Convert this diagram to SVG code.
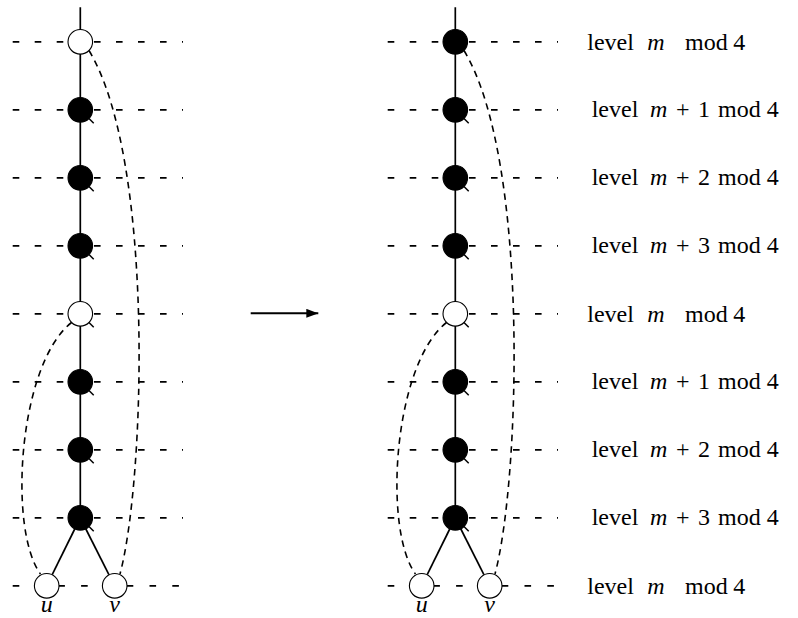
<svg xmlns="http://www.w3.org/2000/svg" width="798" height="618" viewBox="0 0 798 618">
<style>
.lv{fill:none;stroke:#000;stroke-width:1.8;stroke-dasharray:6.6 15.4}
.lvb{fill:none;stroke:#000;stroke-width:1.8;stroke-dasharray:6.6 16.2}
.sol{fill:none;stroke:#000;stroke-width:1.7}
.crv{fill:none;stroke:#000;stroke-width:1.6;stroke-dasharray:6.5 5}
.w{fill:#fff;stroke:#000;stroke-width:1.1}
.b{fill:#000;stroke:#000;stroke-width:1.1}
.tk{stroke:#000;stroke-width:1.5}
.it{font-style:italic}
</style>
<defs>
<marker id="ah" viewBox="0 0 12 9" refX="12" refY="4.5" markerWidth="12" markerHeight="9" markerUnits="userSpaceOnUse" orient="auto">
<path d="M0 0 L12 4.5 L0 9 Z" fill="#000"/>
</marker>
<g id="lvl">
<line class="lv" x1="12.7" y1="0" x2="68" y2="0"/>
<line class="lv" x1="94" y1="0" x2="183" y2="0"/>
</g>
</defs>

<g id="levels">
<g id="levels-left">
<use href="#lvl" y="41.8"/><use href="#lvl" y="109.8"/><use href="#lvl" y="177.8"/><use href="#lvl" y="245.8"/>
<use href="#lvl" y="313.8"/><use href="#lvl" y="381.8"/><use href="#lvl" y="449.8"/><use href="#lvl" y="517.8"/>
<line class="lvb" x1="12.7" y1="585.8" x2="183" y2="585.8"/>
</g>
<g id="levels-right" transform="translate(375,0)">
<use href="#lvl" y="41.8"/><use href="#lvl" y="109.8"/><use href="#lvl" y="177.8"/><use href="#lvl" y="245.8"/>
<use href="#lvl" y="313.8"/><use href="#lvl" y="381.8"/><use href="#lvl" y="449.8"/><use href="#lvl" y="517.8"/>
<line class="lvb" x1="12.7" y1="585.8" x2="183" y2="585.8"/>
</g>
</g>

<g id="connectors">
<g id="conn-left">
<line class="sol" x1="80.3" y1="7.3" x2="80.3" y2="517.8"/>
<line class="sol" x1="75" y1="528.5" x2="52.2" y2="574.6"/>
<line class="sol" x1="85.6" y1="528.5" x2="108.9" y2="574.6"/>
<path class="crv" d="M 89 50.5 C 155 160, 145 480, 120 574"/>
<path class="crv" d="M 71.5 322.5 C 18 365, 8 530, 40.5 574"/>
</g>
<g id="conn-right">
<line class="sol" x1="455.3" y1="7.3" x2="455.3" y2="517.8"/>
<line class="sol" x1="450" y1="528.5" x2="427.2" y2="574.6"/>
<line class="sol" x1="460.6" y1="528.5" x2="483.9" y2="574.6"/>
<path class="crv" d="M 464 50.5 C 530 160, 520 480, 495 574"/>
<path class="crv" d="M 446.5 322.5 C 393 365, 383 530, 415.5 574"/>
</g>
<line id="arrow" x1="250.7" y1="313.3" x2="318.3" y2="313.3" stroke="#000" stroke-width="2" marker-end="url(#ah)"/>
</g>

<g id="nodes-left" font-family="'Liberation Serif', 'DejaVu Serif', serif" font-size="24" font-style="italic">
<g id="L0"><circle class="w" cx="80.3" cy="41.8" r="12.3"/></g>
<g id="L1"><circle class="b" cx="80.3" cy="109.8" r="12.3"/><line class="tk" x1="89" y1="118.5" x2="93.7" y2="123.2"/></g>
<g id="L2"><circle class="b" cx="80.3" cy="177.8" r="12.3"/><line class="tk" x1="89" y1="186.5" x2="93.7" y2="191.2"/></g>
<g id="L3"><circle class="b" cx="80.3" cy="245.8" r="12.3"/><line class="tk" x1="89" y1="254.5" x2="93.7" y2="259.2"/></g>
<g id="L4"><circle class="w" cx="80.3" cy="313.8" r="12.3"/><line class="tk" x1="89" y1="322.5" x2="93.7" y2="327.2"/></g>
<g id="L5"><circle class="b" cx="80.3" cy="381.8" r="12.3"/><line class="tk" x1="89" y1="390.5" x2="93.7" y2="395.2"/></g>
<g id="L6"><circle class="b" cx="80.3" cy="449.8" r="12.3"/><line class="tk" x1="89" y1="458.5" x2="93.7" y2="463.2"/></g>
<g id="L7"><circle class="b" cx="80.3" cy="517.8" r="12.3"/><line class="tk" x1="89" y1="526.5" x2="93.7" y2="531.2"/></g>
<g id="Lu"><circle class="w" cx="46.7" cy="585.8" r="12.3"/><text x="46.7" y="612" text-anchor="middle">u</text></g>
<g id="Lv"><circle class="w" cx="114.7" cy="585.8" r="12.3"/><text x="114.7" y="612" text-anchor="middle">v</text></g>
</g>

<g id="nodes-right" font-family="'Liberation Serif', 'DejaVu Serif', serif" font-size="24" font-style="italic">
<g id="R0"><circle class="b" cx="455.3" cy="41.8" r="12.3"/></g>
<g id="R1"><circle class="b" cx="455.3" cy="109.8" r="12.3"/><line class="tk" x1="464" y1="118.5" x2="468.7" y2="123.2"/></g>
<g id="R2"><circle class="b" cx="455.3" cy="177.8" r="12.3"/><line class="tk" x1="464" y1="186.5" x2="468.7" y2="191.2"/></g>
<g id="R3"><circle class="b" cx="455.3" cy="245.8" r="12.3"/><line class="tk" x1="464" y1="254.5" x2="468.7" y2="259.2"/></g>
<g id="R4"><circle class="w" cx="455.3" cy="313.8" r="12.3"/><line class="tk" x1="464" y1="322.5" x2="468.7" y2="327.2"/></g>
<g id="R5"><circle class="b" cx="455.3" cy="381.8" r="12.3"/><line class="tk" x1="464" y1="390.5" x2="468.7" y2="395.2"/></g>
<g id="R6"><circle class="b" cx="455.3" cy="449.8" r="12.3"/><line class="tk" x1="464" y1="458.5" x2="468.7" y2="463.2"/></g>
<g id="R7"><circle class="b" cx="455.3" cy="517.8" r="12.3"/><line class="tk" x1="464" y1="526.5" x2="468.7" y2="531.2"/></g>
<g id="Ru"><circle class="w" cx="421.7" cy="585.8" r="12.3"/><text x="421.7" y="612" text-anchor="middle">u</text></g>
<g id="Rv"><circle class="w" cx="489.7" cy="585.8" r="12.3"/><text x="489.7" y="612" text-anchor="middle">v</text></g>
</g>

<g id="labels" font-family="'Liberation Serif', 'DejaVu Serif', serif" font-size="24" fill="#000">
<text y="49.6"><tspan x="587.3">level</tspan><tspan x="647.3" class="it">m</tspan><tspan x="685">mod</tspan><tspan x="733.3">4</tspan></text>
<text y="117.3"><tspan x="591.7">level</tspan><tspan x="650" class="it">m</tspan><tspan x="676">+</tspan><tspan x="698">1</tspan><tspan x="718">mod</tspan><tspan x="766.7">4</tspan></text>
<text y="185.3"><tspan x="591.7">level</tspan><tspan x="650" class="it">m</tspan><tspan x="676">+</tspan><tspan x="698">2</tspan><tspan x="718">mod</tspan><tspan x="766.7">4</tspan></text>
<text y="253.3"><tspan x="591.7">level</tspan><tspan x="650" class="it">m</tspan><tspan x="676">+</tspan><tspan x="698">3</tspan><tspan x="718">mod</tspan><tspan x="766.7">4</tspan></text>
<text y="321.6"><tspan x="587.3">level</tspan><tspan x="647.3" class="it">m</tspan><tspan x="685">mod</tspan><tspan x="733.3">4</tspan></text>
<text y="389.3"><tspan x="591.7">level</tspan><tspan x="650" class="it">m</tspan><tspan x="676">+</tspan><tspan x="698">1</tspan><tspan x="718">mod</tspan><tspan x="766.7">4</tspan></text>
<text y="457.3"><tspan x="591.7">level</tspan><tspan x="650" class="it">m</tspan><tspan x="676">+</tspan><tspan x="698">2</tspan><tspan x="718">mod</tspan><tspan x="766.7">4</tspan></text>
<text y="525.3"><tspan x="591.7">level</tspan><tspan x="650" class="it">m</tspan><tspan x="676">+</tspan><tspan x="698">3</tspan><tspan x="718">mod</tspan><tspan x="766.7">4</tspan></text>
<text y="593.6"><tspan x="587.3">level</tspan><tspan x="647.3" class="it">m</tspan><tspan x="685">mod</tspan><tspan x="733.3">4</tspan></text>
</g>
</svg>
